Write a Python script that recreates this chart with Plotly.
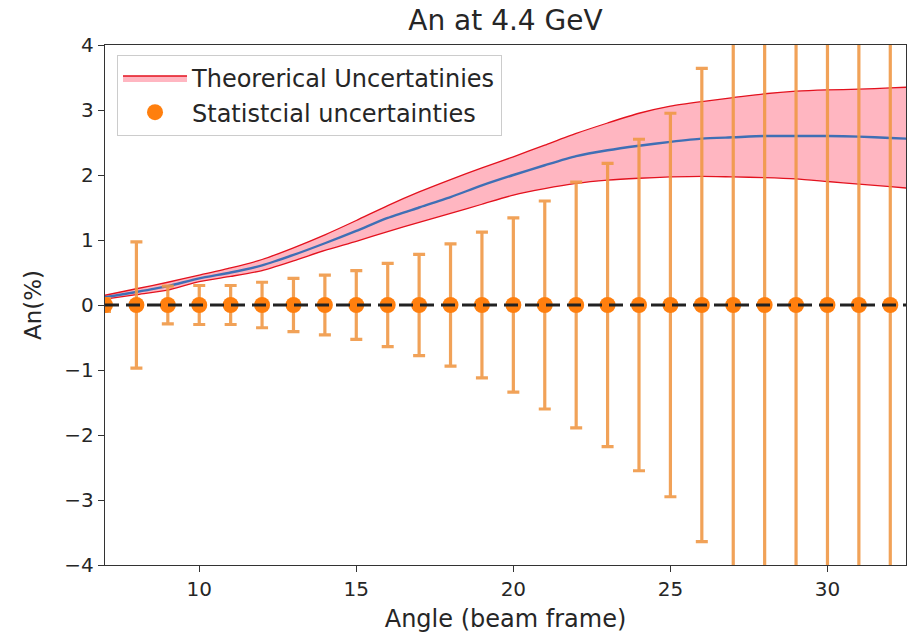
import plotly.graph_objects as go

# Angle grid (beam frame, degrees) for the theoretical curve
theory_angle = [7, 8, 9, 10, 11, 12, 13, 14, 15, 16, 17, 18, 19, 20,
                21, 22, 23, 24, 25, 26, 27, 28, 29, 30, 31, 32, 33]
an_central = [0.12, 0.20, 0.29, 0.41, 0.50, 0.61, 0.77, 0.95, 1.14, 1.34,
              1.50, 1.66, 1.84, 2.00, 2.15, 2.29, 2.38, 2.45, 2.51, 2.56,
              2.58, 2.60, 2.60, 2.60, 2.59, 2.57, 2.55]
an_upper = [0.15, 0.25, 0.35, 0.46, 0.57, 0.70, 0.88, 1.08, 1.30, 1.53,
            1.74, 1.93, 2.11, 2.28, 2.46, 2.64, 2.80, 2.95, 3.06, 3.13,
            3.19, 3.25, 3.29, 3.31, 3.32, 3.34, 3.36]
an_lower = [0.09, 0.16, 0.23, 0.36, 0.44, 0.53, 0.68, 0.84, 0.98, 1.13,
            1.27, 1.41, 1.55, 1.69, 1.79, 1.87, 1.92, 1.95, 1.97, 1.98,
            1.97, 1.96, 1.94, 1.90, 1.86, 1.82, 1.78]

# Projected measurement points with statistical errors
meas_angle = [7, 8, 9, 10, 11, 12, 13, 14, 15, 16, 17, 18, 19, 20,
              21, 22, 23, 24, 25, 26, 27, 28, 29, 30, 31, 32]
meas_an = [0] * len(meas_angle)
meas_err = [0.10, 0.97, 0.29, 0.30, 0.30, 0.35, 0.41, 0.46, 0.53, 0.64,
            0.78, 0.94, 1.12, 1.34, 1.60, 1.89, 2.18, 2.55, 2.95, 3.64,
            4.40, 5.30, 6.20, 7.30, 8.50, 9.80]

x_ticks = [10, 15, 20, 25, 30]
y_ticks = [-4, -3, -2, -1, 0, 1, 2, 3, 4]

FONT = "DejaVu Sans"
ORANGE = "#ff7f0e"
TEXT = "#262626"

fig = go.Figure()

# Uncertainty band: lower edge, then upper edge filled down to it
fig.add_trace(go.Scatter(
    x=theory_angle, y=an_lower, mode="lines",
    line=dict(color="#e3121e", width=1.3, shape="spline", smoothing=0.6),
    showlegend=False, hoverinfo="skip",
))
fig.add_trace(go.Scatter(
    x=theory_angle, y=an_upper, mode="lines",
    line=dict(color="#e3121e", width=1.3, shape="spline", smoothing=0.6),
    fill="tonexty", fillcolor="#ffb6c1",
    name="Theorerical Uncertatinies",
))
# Central theoretical prediction
fig.add_trace(go.Scatter(
    x=theory_angle, y=an_central, mode="lines",
    line=dict(color="#3f6fb5", width=2.4, shape="spline", smoothing=0.6),
    showlegend=False,
))

# Zero reference line
fig.add_hline(y=0, line=dict(color="#222222", width=3.2, dash="14px,7px"),
              layer="above")

# Statistical uncertainties
fig.add_trace(go.Scatter(
    x=meas_angle, y=meas_an, mode="markers",
    marker=dict(color=ORANGE, size=16),
    error_y=dict(type="data", array=meas_err, visible=True,
                 color="rgba(240,152,70,0.9)", thickness=3.2, width=6),
    name="Statistcial uncertainties",
    cliponaxis=True,
))

axis_common = dict(
    showgrid=False, zeroline=False,
    showline=True, linecolor="#333333", linewidth=1.3, mirror=True,
    ticks="outside", ticklen=6, tickwidth=1.3, tickcolor="#333333",
    tickfont=dict(family=FONT, size=20, color=TEXT),
)

fig.update_layout(
    width=908, height=640,
    margin=dict(l=105, r=2, t=45, b=75),
    paper_bgcolor="white", plot_bgcolor="white",
    font=dict(family=FONT, color=TEXT),
    title=dict(text="An at 4.4 GeV", x=0.5, xref="paper", xanchor="center",
               y=1 - 20 / 640, yref="container", yanchor="middle",
               font=dict(family=FONT, size=28, color=TEXT)),
    xaxis=dict(range=[7, 32.5], tickvals=x_ticks,
               title=dict(text="Angle (beam frame)", standoff=10,
                          font=dict(family=FONT, size=24, color=TEXT)),
               **axis_common),
    yaxis=dict(range=[-4, 4], tickvals=y_ticks,
               title=dict(text="An(%)", standoff=16,
                          font=dict(family=FONT, size=23, color=TEXT)),
               **axis_common),
    legend=dict(x=0.015, y=0.981, xanchor="left", yanchor="top",
                traceorder="normal",
                bgcolor="rgba(255,255,255,0.85)", bordercolor="#cccccc",
                borderwidth=1, font=dict(family=FONT, size=24, color=TEXT),
                itemwidth=64, tracegroupgap=4),
    showlegend=True,
)

fig.write_html("out.html")
